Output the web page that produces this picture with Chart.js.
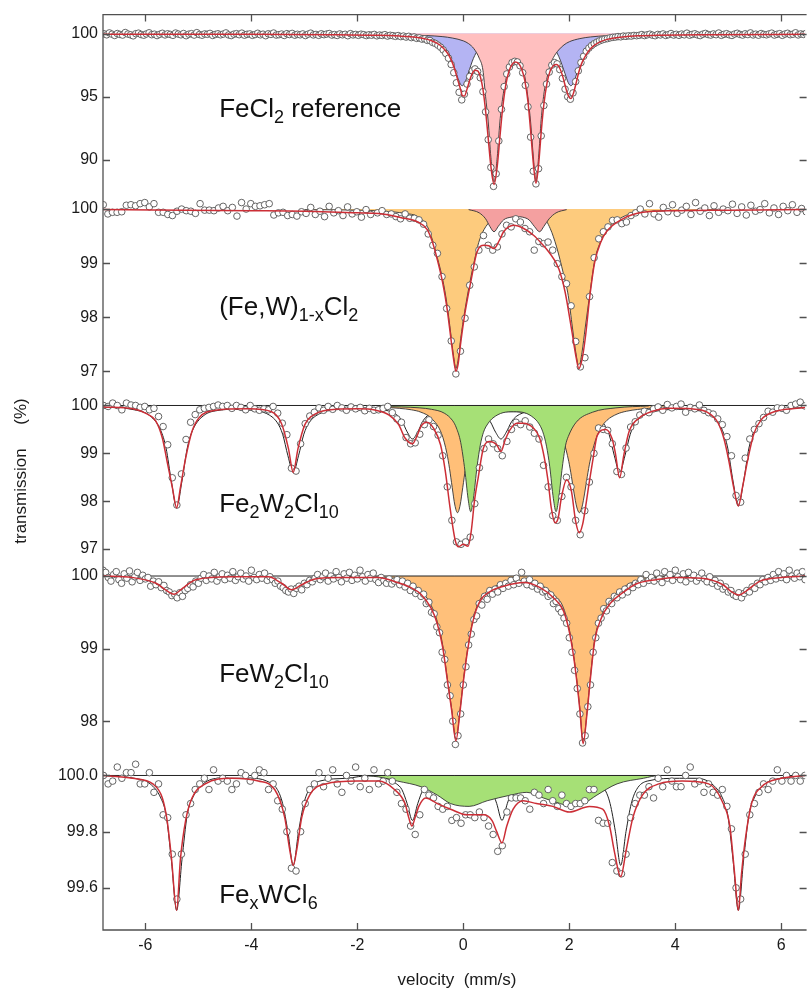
<!DOCTYPE html>
<html>
<head>
<meta charset="utf-8">
<script src="https://cdn.jsdelivr.net/npm/chart.js@4.4.1/dist/chart.umd.min.js"></script>
<style>
html, body { margin: 0; padding: 0; background: #fff; overflow: hidden; }
</style>
</head>
<body>
<canvas id="moss" width="810" height="989"></canvas>
<script>
// ---- axes ----
const velocityTicks = [-6, -4, -2, 0, 2, 4, 6];
const velocityMin = -6.8;
const velocityMax = 6.45;

// ---- panel 1 : FeCl2 reference ----
const p1Ticks = [90, 95, 100];
const p1WingL = [99.98, 99.9, 100.05, 99.95, 99.85, 100.0, 99.93, 99.88, 100.08, 99.96,
  99.9, 99.82, 99.99, 100.03, 99.92, 99.87, 99.97, 100.06, 99.91, 99.95,
  99.84, 99.94, 100.02, 99.89, 99.98, 99.93, 99.86, 100.04, 99.96, 99.9,
  100.0, 99.83, 99.95, 99.99, 99.88, 100.07, 99.92, 99.87, 99.97, 99.94,
  100.01, 99.85, 99.93, 99.98, 99.9, 99.96, 100.05, 99.89, 99.84, 99.95,
  99.99, 99.91, 100.03, 99.87, 99.94, 99.97, 99.86, 99.92, 100.02, 99.9,
  99.95, 99.83, 99.98, 99.93, 100.04, 99.88, 99.91, 99.96, 99.85, 99.99,
  99.92, 100.01, 99.87, 99.94, 99.9, 99.97, 99.84, 99.95, 100.03, 99.89,
  99.93, 99.86, 99.98, 99.91, 99.96, 100.0, 99.88, 99.92, 99.85, 99.97,
  99.9, 99.94, 99.83, 99.99, 99.89, 99.93, 99.86, 99.95, 99.91, 99.84,
  99.9, 99.87, 99.93, 99.82, 99.88, 99.85, 99.91, 99.8, 99.86, 99.83,
  99.78, 99.84];
const p1Mid = [99.76, 99.8, 99.72, 99.78, 99.68, 99.73, 99.62, 99.66, 99.56, 99.58,
  99.46, 99.45, 99.3, 99.22, 99.08, 98.92, 98.7, 98.42, 98.05, 97.55,
  96.9, 96.1, 95.35, 94.75, 95.2, 96.0, 96.6, 97.05, 97.2, 97.0,
  96.5, 95.4, 93.8, 91.6, 89.4, 87.9, 88.9, 91.5, 94.0, 95.8,
  96.8, 97.35, 97.7, 97.8, 97.75, 97.45, 96.9, 95.9, 94.2, 91.8,
  89.1, 88.1, 89.3, 91.9, 94.3, 96.0, 96.95, 97.5, 97.7, 97.6,
  97.15, 96.45, 95.6, 95.0, 94.8, 95.3, 96.2, 97.05, 97.7, 98.2,
  98.6, 98.85, 99.05, 99.2, 99.32, 99.42, 99.5, 99.56, 99.6, 99.66,
  99.7, 99.72, 99.76, 99.74, 99.8, 99.78, 99.82, 99.8, 99.85, 99.83];
const p1WingR = [99.86, 99.92, 99.84, 99.9, 99.95, 99.87, 99.83, 99.93, 99.89, 99.97,
  99.85, 99.91, 100.0, 99.88, 99.94, 99.86, 99.96, 99.9, 100.03, 99.87,
  99.93, 99.98, 99.89, 99.84, 99.95, 100.01, 99.92, 99.88, 99.97, 99.91,
  100.04, 99.86, 99.94, 99.99, 99.9, 99.85, 99.96, 100.02, 99.93, 99.88,
  99.98, 99.92, 100.05, 99.89, 99.95, 99.87, 100.0, 99.93, 99.9, 99.97,
  100.03, 99.88, 99.94, 99.99, 99.86, 99.96, 100.02, 99.91, 99.95, 100.06,
  99.89, 99.97, 99.93, 100.01, 99.9, 99.96, 100.04, 99.92, 99.98, 99.94];
const p1FitV = [-6.8, -4.0, -2.5, -1.6, -1.2, -1.0, -0.8, -0.7, -0.6, -0.5,
  -0.4, -0.3, -0.25, -0.2, -0.15, -0.1, -0.05, -0.02, 0.02, 0.07,
  0.12, 0.17, 0.22, 0.27, 0.32, 0.37, 0.42, 0.47, 0.52, 0.58,
  0.64, 0.69, 0.74, 0.8, 0.86, 0.92, 0.98, 1.04, 1.1, 1.16,
  1.22, 1.27, 1.32, 1.37, 1.42, 1.47, 1.52, 1.58, 1.64, 1.7,
  1.76, 1.82, 1.88, 1.94, 1.99, 2.03, 2.08, 2.13, 2.18, 2.23,
  2.3, 2.4, 2.5, 2.6, 2.7, 2.85, 3.0, 3.3, 3.7, 4.5, 6.45];
const p1FitT = [99.95, 99.94, 99.91, 99.86, 99.8, 99.75, 99.65, 99.56, 99.43, 99.24,
  98.94, 98.46, 98.1, 97.62, 97.0, 96.25, 95.55, 95.1, 95.05, 95.6,
  96.3, 96.85, 97.1, 97.05, 96.6, 95.6, 93.9, 91.7, 89.5, 88.05,
  89.5, 91.8, 94.0, 95.9, 97.0, 97.55, 97.75, 97.65, 97.2, 96.3,
  94.6, 92.3, 89.8, 88.15, 89.6, 92.2, 94.4, 96.1, 97.05, 97.45,
  97.55, 97.25, 96.55, 95.6, 95.0, 94.85, 95.3, 96.1, 96.95, 97.6,
  98.2, 98.8, 99.15, 99.38, 99.52, 99.65, 99.73, 99.82, 99.87, 99.91, 99.94];
const p1PinkV = [-2.5, -1.5, -1.0, -0.7, -0.4, -0.2, 0.0, 0.1, 0.2, 0.3,
  0.37, 0.42, 0.47, 0.52, 0.58, 0.64, 0.69, 0.74, 0.8, 0.86,
  0.92, 0.98, 1.04, 1.1, 1.16, 1.22, 1.27, 1.32, 1.37, 1.42,
  1.47, 1.52, 1.58, 1.64, 1.7, 1.8, 1.9, 2.0, 2.2, 2.4, 2.7, 3.0, 3.5, 4.5];
const p1PinkT = [99.96, 99.92, 99.88, 99.84, 99.76, 99.64, 99.42, 99.2, 98.8, 98.05,
  97.1, 95.0, 93.0, 90.2, 88.25, 90.2, 93.0, 94.8, 96.3, 97.2,
  97.6, 97.8, 97.7, 97.35, 96.6, 94.9, 93.0, 90.3, 88.25, 90.2,
  93.2, 95.2, 96.5, 97.5, 98.1, 98.7, 99.1, 99.35, 99.6, 99.73, 99.83, 99.88, 99.92, 99.96];
const p1BlueV = [-1.2, -0.8, -0.6, -0.45, -0.33, -0.23, -0.13, -0.07, -0.02, 0.03,
  0.09, 0.19, 0.29, 0.4, 0.55, 0.8, 1.0, 1.25, 1.5, 1.65,
  1.8, 1.92, 1.98, 2.03, 2.08, 2.14, 2.24, 2.34, 2.48, 2.7, 3.0, 3.3];
const p1BlueT = [99.88, 99.74, 99.56, 99.26, 98.79, 98.03, 96.82, 96.11, 95.87, 96.11,
  96.82, 98.03, 98.79, 99.24, 99.55, 99.75, 99.7, 99.73, 99.5, 99.2,
  98.2, 96.82, 96.11, 95.87, 96.11, 96.82, 98.03, 98.79, 99.3, 99.65, 99.84, 99.9];

// ---- panel 2 : (Fe,W)1-xCl2 ----
const p2Ticks = [97, 98, 99, 100];
const p2WingL = [100.08, 99.91, 99.94, 99.94, 99.95, 100.07, 100.08, 100.06, 100.1, 100.12,
  100.04, 100.1, 99.94, 99.94, 99.9, 99.88, 99.96, 100.0, 99.97, 99.96,
  99.92, 100.1, 99.98, 99.98, 99.97, 100.02, 100.05, 99.97, 100.03, 99.87,
  100.12, 100.0, 100.1, 100.05, 100.06, 100.08, 100.1, 99.89, 99.93, 99.94,
  99.88, 99.9, 99.87, 99.95, 99.92, 100.03, 99.9, 99.96, 99.86, 100.05,
  99.93, 99.97, 99.88, 100.04, 99.91, 99.95, 99.85, 99.99, 99.9];
const p2Mid = [99.93, 99.97, 99.9, 99.91, 99.86, 99.82, 99.91, 99.83, 99.83, 99.8,
  99.72, 99.54, 99.33, 99.18, 98.75, 98.16, 97.56, 96.95, 97.37, 97.98,
  98.59, 98.93, 99.24, 99.51, 99.33, 99.24, 99.3, 99.54, 99.7, 99.67,
  99.82, 99.76, 99.64, 99.58, 99.24, 99.4, 99.36, 99.39, 99.24, 98.99,
  98.75, 98.62, 98.21, 97.55, 97.08, 97.25, 98.38, 99.1, 99.45, 99.58,
  99.67, 99.79, 99.8, 99.73, 99.76, 99.88, 99.93, 100.0, 99.91];
const p2WingR = [100.1, 99.91, 99.85, 100.03, 99.95, 100.08, 99.92, 99.98, 100.05, 99.9,
  100.12, 99.96, 100.02, 99.88, 100.06, 99.94, 100.0, 99.97, 100.09, 99.92,
  100.04, 99.89, 100.07, 99.96, 99.99, 100.1, 99.93, 100.02, 99.9, 100.05,
  99.97, 100.08, 99.94, 100.01, 99.95, 100.06, 99.98, 100.03];
const p2FitV = [-6.8, -4.0, -3.0, -2.0, -1.6, -1.17, -0.86, -0.68, -0.58, -0.49,
  -0.39, -0.31, -0.24, -0.18, -0.14, -0.1, -0.05, 0.025, 0.14, 0.26,
  0.39, 0.48, 0.58, 0.68, 0.76, 0.95, 1.14, 1.33, 1.48, 1.61,
  1.8, 1.92, 2.05, 2.13, 2.18, 2.24, 2.3, 2.39, 2.48, 2.6,
  2.7, 3.01, 3.39, 4.0, 5.0, 6.45];
const p2FitT = [99.99, 99.97, 99.96, 99.93, 99.92, 99.84, 99.76, 99.62, 99.38, 99.06,
  98.64, 98.18, 97.65, 97.2, 97.0, 97.12, 97.52, 98.04, 98.65, 99.21,
  99.33, 99.32, 99.27, 99.42, 99.58, 99.7, 99.64, 99.51, 99.36, 99.21,
  98.9, 98.47, 97.73, 97.25, 97.05, 97.22, 97.6, 98.41, 99.02, 99.4,
  99.58, 99.82, 99.94, 99.97, 99.98, 99.99];
const p2OrangeV = [-3.0, -2.0, -1.5, -1.1, -0.86, -0.68, -0.58, -0.49, -0.39, -0.31,
  -0.24, -0.18, -0.14, -0.1, -0.05, 0.025, 0.125, 0.21, 0.29, 0.39,
  0.54, 0.8, 1.0, 1.2, 1.5, 1.64, 1.76, 1.89, 1.98, 2.06,
  2.13, 2.18, 2.24, 2.3, 2.39, 2.48, 2.6, 2.7, 3.0, 3.26, 4.0, 5.0];
const p2OrangeT = [99.99, 99.98, 99.96, 99.92, 99.86, 99.68, 99.42, 99.1, 98.7, 98.25,
  97.72, 97.25, 97.05, 97.2, 97.6, 98.1, 98.65, 99.05, 99.38, 99.62,
  99.8, 99.9, 99.93, 99.92, 99.86, 99.64, 99.3, 98.8, 98.4, 97.8,
  97.3, 97.08, 97.35, 97.8, 98.45, 99.05, 99.42, 99.6, 99.85, 99.93, 99.97, 99.99];
const p2PinkV = [0.1, 0.3, 0.42, 0.5, 0.58, 0.66, 0.76, 0.9, 1.01, 1.12, 1.24, 1.34, 1.44, 1.52, 1.62, 1.75, 1.95];
const p2PinkT = [99.99, 99.93, 99.82, 99.68, 99.58, 99.68, 99.8, 99.85, 99.86, 99.85, 99.8, 99.68, 99.58, 99.68, 99.82, 99.93, 99.99];

// ---- panel 3 : Fe2W2Cl10 ----
const p3Ticks = [97, 98, 99, 100];
const p3WingL = [100.0, 99.98, 100.05, 100.0, 99.91, 100.05, 100.01, 100.0, 99.96, 99.98,
  99.91, 99.94, 99.77, 99.56, 99.18, 98.49, 97.92, 98.57, 99.29, 99.65,
  99.81, 99.91, 99.94, 99.96, 99.98, 100.01, 99.98, 100.0, 99.94, 100.0,
  99.96, 99.91, 100.0, 99.93, 99.9, 99.93, 99.91, 99.98, 99.84, 99.63,
  99.39, 98.69, 98.63, 99.2, 99.62];
const p3Mid = [99.78, 99.86, 99.95, 99.9, 99.98, 99.92, 100.0, 99.95, 99.9, 99.97,
  99.93, 99.96, 99.89, 99.94, 99.9, 99.91, 99.94, 99.98, 99.85, 99.72,
  99.65, 99.33, 99.2, 99.22, 99.4, 99.6, 99.7, 99.56, 99.38, 98.95,
  98.3, 97.6, 97.15, 97.1, 97.15, 97.25, 97.95, 98.7, 99.1, 99.3,
  99.2, 99.1, 98.95, 99.25, 99.5, 99.65, 99.6, 99.68, 99.55, 99.42,
  99.3, 98.75, 98.3, 97.7, 97.6, 98.1, 98.5, 98.3, 97.6, 97.3,
  97.8, 98.4, 99.0, 99.53, 99.5, 99.48, 99.2, 98.62];
const p3WingR = [98.56, 99.11, 99.55, 99.66, 99.8, 99.88, 99.85, 99.93, 99.97, 99.9,
  100.02, 99.95, 99.98, 100.03, 99.86, 99.96, 99.93, 100.01, 99.9, 99.85,
  99.82, 99.72, 99.6, 99.35, 98.95, 98.12, 97.98, 98.9, 99.3, 99.5,
  99.62, 99.75, 99.88, 99.86, 99.95, 99.94, 99.9, 100.0, 100.03, 100.07,
  99.99, 99.94, 100.02, 99.97, 100.0];
const p3FitV = [-6.8, -6.24, -6.0, -5.8, -5.68, -5.59, -5.49, -5.41, -5.34, -5.24,
  -5.12, -4.99, -4.68, -4.05, -3.62, -3.43, -3.3, -3.21, -3.12, -2.99,
  -2.8, -2.4, -2.0, -1.65, -1.4, -1.22, -1.1, -0.96, -0.88, -0.79,
  -0.69, -0.56, -0.43, -0.34, -0.25, -0.15, -0.09, 0.0, 0.09, 0.15,
  0.21, 0.28, 0.38, 0.5, 0.63, 0.71, 0.79, 0.88, 1.01, 1.13,
  1.32, 1.44, 1.53, 1.6, 1.66, 1.73, 1.79, 1.85, 1.95, 2.04,
  2.12, 2.19, 2.25, 2.29, 2.38, 2.44, 2.53, 2.69, 2.81, 2.87,
  2.95, 3.03, 3.13, 3.32, 3.57, 3.88, 4.3, 4.6, 4.8, 4.92,
  5.01, 5.1, 5.19, 5.27, 5.37, 5.48, 5.62, 5.9, 6.3, 6.45];
const p3FitT = [99.97, 99.93, 99.84, 99.67, 99.32, 98.83, 98.28, 97.86, 98.28, 98.9,
  99.46, 99.74, 99.9, 99.93, 99.87, 99.62, 99.1, 98.6, 99.1, 99.6,
  99.82, 99.92, 99.93, 99.9, 99.8, 99.6, 99.32, 99.2, 99.35, 99.58,
  99.65, 99.52, 99.18, 98.63, 97.86, 97.17, 97.05, 97.1, 97.06, 97.38,
  98.0, 98.49, 99.11, 99.25, 99.18, 99.04, 99.28, 99.49, 99.63, 99.63,
  99.53, 99.32, 98.9, 98.42, 97.86, 97.55, 97.65, 98.07, 98.45, 98.21,
  97.58, 97.34, 97.51, 97.76, 98.42, 98.83, 99.38, 99.5, 99.3, 99.0,
  98.49, 98.97, 99.46, 99.74, 99.88, 99.94, 99.93, 99.86, 99.65, 99.3,
  98.85, 98.3, 97.9, 98.3, 98.88, 99.4, 99.7, 99.88, 99.94, 99.96];
const p3SextetV = [-6.8, -6.21, -5.91, -5.71, -5.61, -5.51, -5.41, -5.31, -5.21, -5.11,
  -4.91, -4.61, -4.3, -4.01, -3.71, -3.51, -3.41, -3.31, -3.21, -3.11,
  -3.01, -2.91, -2.71, -2.41, -2.0, -1.76, -1.46, -1.26, -1.16, -1.06,
  -0.96, -0.86, -0.76, -0.66, -0.46, -0.12, 0.21, 0.41, 0.51, 0.61,
  0.71, 0.81, 0.91, 1.01, 1.21, 1.51, 1.83, 2.15, 2.45, 2.65,
  2.75, 2.85, 2.95, 3.05, 3.15, 3.25, 3.45, 3.75, 4.07, 4.39,
  4.69, 4.89, 4.99, 5.09, 5.19, 5.29, 5.39, 5.49, 5.69, 5.99, 6.45];
const p3SextetT = [99.97, 99.91, 99.78, 99.48, 99.11, 98.42, 97.87, 98.42, 99.11, 99.48,
  99.78, 99.9, 99.92, 99.9, 99.83, 99.64, 99.4, 98.95, 98.6, 98.95,
  99.4, 99.64, 99.83, 99.91, 99.93, 99.93, 99.9, 99.81, 99.68, 99.45,
  99.3, 99.45, 99.68, 99.8, 99.85, 99.92, 99.84, 99.78, 99.66, 99.44,
  99.3, 99.44, 99.66, 99.78, 99.87, 99.9, 99.9, 99.88, 99.8, 99.62,
  99.4, 98.95, 98.6, 98.95, 99.4, 99.64, 99.82, 99.9, 99.92, 99.9,
  99.78, 99.48, 99.11, 98.42, 97.9, 98.42, 99.11, 99.48, 99.78, 99.91, 99.96];
const p3GreenV = [-1.5, -0.82, -0.6, -0.36, -0.2, -0.13, -0.05, 0.03, 0.09, 0.14,
  0.19, 0.26, 0.32, 0.38, 0.47, 0.56, 0.75, 0.95, 1.15, 1.33,
  1.42, 1.5, 1.57, 1.63, 1.7, 1.75, 1.8, 1.86, 1.93, 1.98,
  2.13, 2.44, 2.88, 3.5];
const p3GreenT = [99.98, 99.95, 99.92, 99.84, 99.68, 99.53, 99.23, 98.64, 98.05, 97.78,
  98.05, 98.73, 99.17, 99.44, 99.63, 99.74, 99.85, 99.87, 99.85, 99.74,
  99.63, 99.45, 99.15, 98.73, 98.05, 97.78, 98.05, 98.64, 99.17, 99.35,
  99.65, 99.86, 99.95, 99.99];
const p3OrangeV = [-1.6, -1.2, -0.98, -0.8, -0.6, -0.41, -0.31, -0.26, -0.21, -0.16,
  -0.11, -0.06, -0.01, 0.04, 0.09, 0.19, 0.29, 0.5, 0.8, 1.0,
  1.2, 1.5, 1.7, 1.89, 1.99, 2.04, 2.09, 2.14, 2.19, 2.24,
  2.29, 2.34, 2.39, 2.49, 2.59, 2.71, 2.9, 3.08, 3.5, 4.0];
const p3OrangeT = [99.97, 99.94, 99.91, 99.86, 99.73, 99.41, 99.0, 98.68, 98.29, 97.92,
  97.76, 97.92, 98.29, 98.68, 99.0, 99.41, 99.62, 99.79, 99.87, 99.87,
  99.84, 99.77, 99.62, 99.26, 98.83, 98.52, 98.17, 97.88, 97.76, 97.88,
  98.17, 98.52, 98.83, 99.26, 99.52, 99.69, 99.82, 99.88, 99.94, 99.97];

// ---- panel 4 : FeW2Cl10 ----
const p4Ticks = [98, 99, 100];
const p4WingL = [100.08, 100.05, 99.98, 99.93, 100.02, 100.06, 99.95, 99.9, 100.03, 99.97,
  100.07, 99.92, 99.99, 100.05, 99.94, 100.01, 99.96,
  99.98, 99.86, 99.93, 99.88, 99.92, 99.84, 99.87, 99.8, 99.78, 99.73,
  99.75, 99.7, 99.77, 99.72, 99.8, 99.83, 99.88, 99.85, 99.93, 99.9,
  99.97, 100.02, 99.94, 100.0, 99.96, 100.05, 99.93, 99.99, 100.03, 99.95,
  100.01, 99.97, 100.06, 99.94, 99.99, 100.04, 99.96, 100.0, 99.93, 100.08,
  99.98, 99.95, 100.02, 99.97, 100.04, 99.94, 99.99,
  99.95, 99.9, 99.93, 99.86, 99.84, 99.8, 99.78, 99.82, 99.76, 99.83,
  99.86, 99.81, 99.9, 99.88, 99.94, 99.92,
  99.97, 100.02, 99.95, 99.99, 100.04, 99.93, 100.0, 99.96, 100.06, 99.98,
  99.92, 100.03, 99.97, 100.05, 99.94, 100.01, 99.96, 100.08, 99.99, 99.93,
  100.02, 99.97, 100.04, 99.95, 99.91, 99.98, 99.94, 99.9, 99.96, 99.89, 99.93];
const p4Mid = [99.95, 99.88, 99.93, 99.85, 99.9, 99.8, 99.86, 99.76, 99.8, 99.72,
  99.75, 99.62, 99.64, 99.5, 99.48, 99.3, 99.22, 98.95, 98.85, 98.5,
  98.35, 98.0, 97.68, 97.8, 98.1, 98.5, 98.75, 99.05, 99.2, 99.4,
  99.45, 99.62, 99.6, 99.72, 99.68, 99.8, 99.75, 99.82, 99.78, 99.88,
  99.83, 99.9, 99.86, 99.94, 99.88, 99.97, 99.9, 100.05, 99.93, 99.88,
  99.95, 99.86, 99.9, 99.82, 99.86, 99.78, 99.8, 99.72, 99.74, 99.62,
  99.65, 99.55, 99.5, 99.42, 99.35, 99.15, 98.95, 98.7, 98.45, 98.1,
  97.7, 97.8, 98.2, 98.5, 98.95, 99.15, 99.35, 99.42, 99.55, 99.52,
  99.65, 99.62, 99.72, 99.7, 99.78, 99.74, 99.82, 99.78, 99.86, 99.84,
  99.9, 99.88, 99.95, 99.9, 100.02, 99.94];
const p4WingR = [99.98, 99.93, 100.04, 99.96, 99.91, 100.06, 99.97, 100.02, 99.94, 100.08,
  99.99, 99.95, 100.03, 99.92, 100.05, 99.97, 100.01, 99.93, 99.98, 100.04,
  99.96, 99.92, 99.99, 99.9, 99.94, 99.86, 99.9, 99.82, 99.85, 99.78,
  99.8, 99.74, 99.72, 99.77, 99.7, 99.76, 99.8, 99.78, 99.85, 99.83,
  99.9, 99.88, 99.95, 99.92, 99.98, 99.94,
  100.02, 99.96, 100.06, 99.98, 100.03, 99.95, 100.08, 100.0, 99.97, 100.04,
  99.99, 100.06, 99.95, 100.02, 100.0, 99.96, 100.05, 99.98, 100.01, 100.03];
const p4FitV = [-6.8, -6.25, -5.8, -5.62, -5.46, -5.3, -5.05, -4.37, -3.68, -3.43,
  -3.24, -3.05, -2.8, -2.3, -1.61, -1.24, -0.99, -0.8, -0.61, -0.49,
  -0.39, -0.3, -0.22, -0.14, -0.06, 0.01, 0.11, 0.2, 0.32, 0.51,
  0.76, 1.14, 1.45, 1.7, 1.89, 2.01, 2.11, 2.2, 2.26, 2.34,
  2.4, 2.48, 2.61, 2.76, 3.01, 3.26, 3.64, 4.01, 4.5, 4.9,
  5.05, 5.2, 5.35, 5.6, 6.0, 6.45];
const p4FitT = [100.0, 99.98, 99.9, 99.81, 99.75, 99.83, 99.95, 99.99, 99.99, 99.9,
  99.81, 99.88, 99.96, 99.98, 99.98, 99.91, 99.84, 99.75, 99.56, 99.34,
  99.02, 98.56, 98.15, 97.73, 98.15, 98.6, 99.11, 99.43, 99.66, 99.79,
  99.86, 99.91, 99.84, 99.7, 99.52, 99.2, 98.74, 98.15, 97.69, 98.15,
  98.6, 99.11, 99.43, 99.61, 99.77, 99.89, 99.95, 99.98, 99.97, 99.88,
  99.79, 99.74, 99.8, 99.93, 99.98, 100.0];
const p4OrangeV = [-2.5, -1.5, -1.1, -0.99, -0.8, -0.61, -0.49, -0.39, -0.3, -0.22,
  -0.14, -0.06, 0.01, 0.11, 0.2, 0.32, 0.51, 0.76, 1.14, 1.45,
  1.7, 1.89, 2.01, 2.11, 2.2, 2.26, 2.34, 2.4, 2.48, 2.61,
  2.76, 3.01, 3.26, 3.64, 4.5];
const p4OrangeT = [100.0, 99.98, 99.94, 99.9, 99.8, 99.6, 99.37, 99.05, 98.58, 98.17,
  97.75, 98.17, 98.62, 99.13, 99.45, 99.68, 99.82, 99.9, 99.93, 99.88,
  99.75, 99.56, 99.23, 98.76, 98.17, 97.71, 98.17, 98.62, 99.13, 99.46,
  99.66, 99.84, 99.93, 99.98, 100.0];

// ---- panel 5 : FexWCl6 ----
const p5Ticks = [99.6, 99.8, 100.0];
const p5WingL = [100.0, 99.97, 99.98, 100.03, 99.99, 100.01, 100.01, 100.04, 99.97, 99.97,
  100.01, 99.94, 99.97, 99.86, 99.85, 99.72, 99.56, 99.72, 99.86, 99.9,
  99.95, 99.97, 99.99, 99.95, 100.02, 99.98, 99.99, 99.98, 99.95, 99.97,
  100.01, 100.0, 99.98, 100.0, 100.02, 100.01, 99.95, 99.97, 99.91, 99.88,
  99.8, 99.67, 99.66, 99.8, 99.9];
const p5Mid = [99.95, 99.97, 100.01, 99.96, 99.99, 100.02, 99.97, 99.94, 100.0, 99.98,
  100.03, 99.96, 99.99, 99.95, 100.02, 99.97, 99.98, 100.01, 99.98, 99.94,
  99.9, 99.88, 99.82, 99.79, 99.86, 99.95, 99.93, 99.92, 99.89, 99.88,
  99.89, 99.84, 99.85, 99.83, 99.86, 99.86, 99.85, 99.87, 99.85, 99.82,
  99.79, 99.73, 99.75, 99.87, 99.92, 99.92, 99.92, 99.91, 99.88, 99.94,
  99.93, 99.9, 99.95, 99.91, 99.89, 99.93, 99.9, 99.89, 99.9, 99.9,
  99.91, 99.95, 99.95, 99.84, 99.83, 99.83, 99.69, 99.66];
const p5WingR = [99.65, 99.72, 99.85, 99.9, 99.93, 99.93, 99.96, 99.92, 99.99, 99.96,
  100.02, 99.98, 99.96, 99.96, 100.0, 100.03, 99.97, 99.98, 99.94, 99.97,
  99.94, 99.93, 99.95, 99.89, 99.81, 99.6, 99.56, 99.72, 99.86, 99.9,
  99.94, 99.97, 99.95, 99.98, 100.02, 99.98, 100.0, 99.98, 100.0, 99.98,
  100.0, 99.99, 100.01, 99.98, 100.0];
const p5FitV = [-6.8, -6.24, -5.86, -5.68, -5.59, -5.51, -5.41, -5.34, -5.24, -5.12,
  -4.87, -4.37, -3.87, -3.56, -3.37, -3.28, -3.21, -3.14, -3.05, -2.9,
  -2.6, -2.0, -1.6, -1.3, -1.1, -1.03, -0.97, -0.91, -0.84, -0.71,
  -0.49, -0.24, 0.07, 0.38, 0.54, 0.63, 0.73, 0.82, 0.94, 1.13,
  1.38, 1.69, 2.0, 2.38, 2.63, 2.76, 2.85, 2.97, 3.07, 3.2,
  3.38, 3.69, 4.13, 4.63, 4.88, 5.03, 5.12, 5.19, 5.25, 5.32,
  5.44, 5.63, 6.0, 6.45];
const p5FitT = [100.0, 99.99, 99.97, 99.92, 99.84, 99.71, 99.52, 99.7, 99.84, 99.92,
  99.97, 99.99, 99.98, 99.95, 99.85, 99.74, 99.68, 99.74, 99.85, 99.93,
  99.97, 99.98, 99.98, 99.95, 99.9, 99.85, 99.82, 99.85, 99.89, 99.92,
  99.9, 99.88, 99.86, 99.86, 99.84, 99.8, 99.76, 99.82, 99.88, 99.91,
  99.9, 99.89, 99.87, 99.89, 99.88, 99.82, 99.73, 99.64, 99.73, 99.85,
  99.93, 99.97, 99.98, 99.97, 99.91, 99.82, 99.65, 99.52, 99.65, 99.77,
  99.9, 99.96, 99.99, 100.0];
const p5SextetV = [-6.8, -6.21, -5.91, -5.71, -5.61, -5.51, -5.41, -5.31, -5.21, -5.11,
  -4.91, -4.61, -4.01, -3.71, -3.51, -3.41, -3.31, -3.21, -3.11, -3.01,
  -2.91, -2.71, -2.2, -1.76, -1.46, -1.26, -1.16, -1.06, -0.96, -0.86,
  -0.76, -0.66, -0.46, -0.12, 0.23, 0.43, 0.53, 0.63, 0.73, 0.83,
  0.93, 1.03, 1.23, 1.85, 2.17, 2.47, 2.67, 2.77, 2.87, 2.97,
  3.07, 3.17, 3.27, 3.47, 4.08, 4.39, 4.69, 4.89, 4.99, 5.09,
  5.19, 5.29, 5.39, 5.49, 5.69, 5.99, 6.45];
const p5SextetT = [100.0, 99.99, 99.97, 99.92, 99.86, 99.7, 99.52, 99.7, 99.86, 99.92,
  99.97, 99.99, 99.99, 99.98, 99.95, 99.9, 99.8, 99.68, 99.8, 99.9,
  99.95, 99.98, 99.99, 100.0, 99.99, 99.97, 99.95, 99.9, 99.84, 99.9,
  99.95, 99.97, 99.99, 99.99, 99.99, 99.97, 99.95, 99.9, 99.84, 99.9,
  99.95, 99.97, 99.99, 99.99, 99.99, 99.98, 99.95, 99.9, 99.8, 99.68,
  99.8, 99.9, 99.95, 99.98, 99.99, 99.99, 99.97, 99.92, 99.86, 99.7,
  99.52, 99.7, 99.86, 99.92, 99.97, 99.99, 100.0];
const p5GreenV = [-2.0, -1.6, -1.24, -0.8, -0.49, -0.24, 0.11, 0.45, 0.89, 1.2,
  1.51, 1.83, 2.02, 2.27, 2.52, 2.9, 3.4, 3.71, 4.2];
const p5GreenT = [100.0, 99.995, 99.98, 99.96, 99.93, 99.9, 99.89, 99.91, 99.93, 99.94,
  99.92, 99.9, 99.89, 99.9, 99.93, 99.97, 99.99, 100.0, 100.0];

// ---- helpers ----
const FONT = '"Liberation Sans", Arial, Helvetica, sans-serif';
const AXIS = '#505050';
const FIT = '#cc2e36';

function seg(start, step, vals) {
  return vals.map((t, i) => ({ x: +(start + step * i).toFixed(4), y: t }));
}
function pairs(vs, ts) {
  return vs.map((v, i) => ({ x: v, y: ts[i] }));
}
function curve(yID, data, color, width, order, fillColor) {
  return {
    yAxisID: yID, data: data, order: order,
    borderColor: color, borderWidth: width,
    backgroundColor: fillColor || 'rgba(0,0,0,0)',
    fill: fillColor ? { value: 100 } : false,
    pointRadius: 0, cubicInterpolationMode: 'monotone'
  };
}
function dots(yID, data) {
  return {
    yAxisID: yID, data: data, order: 1, showLine: false,
    pointRadius: 3.3, pointBackgroundColor: '#ffffff',
    pointBorderColor: '#555555', pointBorderWidth: 0.9
  };
}
const baseline = [{ x: velocityMin, y: 100 }, { x: velocityMax, y: 100 }];

const panels = [
  { id: 'y1', min: 87.29, max: 101.5, h: 180, ticks: p1Ticks, labelY: 93.37,
    label: [['FeCl', 0], ['2', 1], [' reference', 0]] },
  { id: 'y2', min: 96.587, max: 100.277, h: 200, ticks: p2Ticks, labelY: 98.04,
    label: [['(Fe,W)', 0], ['1-x', 1], ['Cl', 0], ['2', 1]] },
  { id: 'y3', min: 96.6875, max: 100.25, h: 171, ticks: p3Ticks, labelY: 97.77,
    label: [['Fe', 0], ['2', 1], ['W', 0], ['2', 1], ['Cl', 0], ['10', 1]] },
  { id: 'y4', min: 97.5, max: 100.165, h: 194, ticks: p4Ticks, labelY: 98.54,
    label: [['FeW', 0], ['2', 1], ['Cl', 0], ['10', 1]] },
  { id: 'y5', min: 99.45, max: 100.064, h: 173, ticks: p5Ticks, labelY: 99.546, decimals: 1,
    label: [['Fe', 0], ['x', 1], ['WCl', 0], ['6', 1]] }
];

// sextet outlines are drawn first so the filled doublets cover them
const datasets = [
  // panel 1
  curve('y1', pairs(p1BlueV, p1BlueT), '#333', 0.9, 5, '#b4b4f3'),
  curve('y1', pairs(p1PinkV, p1PinkT), '#333', 0.9, 4, '#ffbfbf'),
  dots('y1', [].concat(seg(-6.78, 0.05, p1WingL), seg(-1.18, 0.05, p1Mid), seg(3.32, 0.05, p1WingR))),
  curve('y1', pairs(p1FitV, p1FitT), FIT, 1.5, 0),
  // panel 2
  curve('y2', pairs(p2OrangeV, p2OrangeT), '#333', 0.9, 5, '#fdcb7d'),
  curve('y2', pairs(p2PinkV, p2PinkT), '#333', 0.9, 4, '#f4a0a0'),
  dots('y2', [].concat(seg(-6.795, 0.087, p2WingL), seg(-1.62, 0.087, p2Mid), seg(3.513, 0.087, p2WingR))),
  curve('y2', pairs(p2FitV, p2FitT), FIT, 1.5, 0),
  // panel 3
  curve('y3', pairs(p3SextetV, p3SextetT), '#222', 1, 7),
  curve('y3', pairs(p3OrangeV, p3OrangeT), '#333', 0.9, 5, '#ffbf78'),
  curve('y3', pairs(p3GreenV, p3GreenT), '#333', 0.9, 4, '#a6e076'),
  curve('y3', baseline, '#222', 1, 3),
  dots('y3', [].concat(seg(-6.79, 0.0865, p3WingL), seg(-2.8975, 0.0865, p3Mid), seg(2.9845, 0.0865, p3WingR))),
  curve('y3', pairs(p3FitV, p3FitT), FIT, 1.5, 0),
  // panel 4
  curve('y4', pairs(p4OrangeV, p4OrangeT), '#333', 0.9, 5, '#ffc07a'),
  curve('y4', baseline, '#222', 1, 3),
  dots('y4', [].concat(seg(-6.8, 0.05, p4WingL), seg(-1.25, 0.05, p4Mid), seg(3.55, 0.05, p4WingR))),
  curve('y4', pairs(p4FitV, p4FitT), FIT, 1.5, 0),
  // panel 5
  curve('y5', pairs(p5SextetV, p5SextetT), '#222', 1, 7),
  curve('y5', pairs(p5GreenV, p5GreenT), '#333', 0.9, 4, '#a6e076'),
  curve('y5', baseline, '#222', 1, 3),
  dots('y5', [].concat(seg(-6.79, 0.0865, p5WingL), seg(-2.8975, 0.0865, p5Mid), seg(2.9845, 0.0865, p5WingR))),
  curve('y5', pairs(p5FitV, p5FitT), FIT, 1.5, 0)
];

const scales = {
  x: {
    type: 'linear', min: velocityMin, max: velocityMax,
    afterBuildTicks: s => { s.ticks = velocityTicks.map(v => ({ value: v })); },
    afterFit: s => { s.height = 59; },
    grid: { display: false, drawTicks: false },
    border: { display: false },
    ticks: { font: { family: FONT, size: 16 }, color: '#1a1a1a', padding: 6 }
  }
};
panels.forEach((p, k) => {
  scales[p.id] = {
    type: 'linear', position: 'left', stack: 'panels', stackWeight: p.h, weight: 5 - k,
    min: p.min, max: p.max,
    afterBuildTicks: s => { s.ticks = p.ticks.map(v => ({ value: v })); },
    afterFit: s => { s.width = 103; },
    grid: { display: false, drawTicks: false },
    border: { display: false },
    ticks: {
      font: { family: FONT, size: 16 }, color: '#1a1a1a', padding: 5,
      callback: v => p.decimals ? v.toFixed(p.decimals) : String(v)
    }
  };
});

const framePlugin = {
  id: 'frame',
  afterDatasetsDraw(chart) {
    const { ctx, chartArea: a, scales: sc } = chart;
    const rightEdge = a.right + 1.5; // frame sits just past the visible edge
    ctx.save();
    ctx.strokeStyle = AXIS;
    ctx.lineWidth = 1.3;
    ctx.beginPath();
    ctx.moveTo(rightEdge, a.top); ctx.lineTo(a.left, a.top);
    ctx.lineTo(a.left, a.bottom); ctx.lineTo(rightEdge, a.bottom);
    velocityTicks.forEach(v => {
      const px = Math.round(sc.x.getPixelForValue(v)) + 0.5;
      ctx.moveTo(px, a.bottom); ctx.lineTo(px, a.bottom - 7);
      ctx.moveTo(px, a.top); ctx.lineTo(px, a.top + 7);
    });
    panels.forEach(p => {
      p.ticks.forEach(v => {
        const py = Math.round(sc[p.id].getPixelForValue(v)) + 0.5;
        ctx.moveTo(a.left, py); ctx.lineTo(a.left + 7, py);
        ctx.moveTo(rightEdge, py); ctx.lineTo(rightEdge - 7, py);
      });
    });
    ctx.stroke();

    // panel names
    ctx.fillStyle = '#111';
    ctx.textBaseline = 'alphabetic';
    ctx.textAlign = 'left';
    const lx = sc.x.getPixelForValue(-4.607);
    panels.forEach(p => {
      let cx = lx;
      const by = sc[p.id].getPixelForValue(p.labelY);
      p.label.forEach(([txt, sub]) => {
        ctx.font = (sub ? '18px ' : '26px ') + FONT;
        ctx.fillText(txt, cx, by + (sub ? 6 : 0));
        cx += ctx.measureText(txt).width;
      });
    });

    // axis titles
    ctx.font = '17px ' + FONT;
    ctx.fillStyle = '#1a1a1a';
    ctx.textAlign = 'center';
    ctx.fillText('velocity  (mm/s)', 457, 985);
    ctx.save();
    ctx.translate(26, 471);
    ctx.rotate(-Math.PI / 2);
    ctx.fillText('transmission     (%)', 0, 0);
    ctx.restore();
    ctx.restore();
  }
};

new Chart(document.getElementById('moss'), {
  type: 'line',
  data: { datasets: datasets },
  options: {
    responsive: false,
    maintainAspectRatio: false,
    animation: false,
    events: [],
    layout: { padding: { left: 0, top: 12, right: 0, bottom: 0 } },
    plugins: { legend: { display: false }, tooltip: { enabled: false } },
    scales: scales
  },
  plugins: [framePlugin]
});
</script>
</body>
</html>
